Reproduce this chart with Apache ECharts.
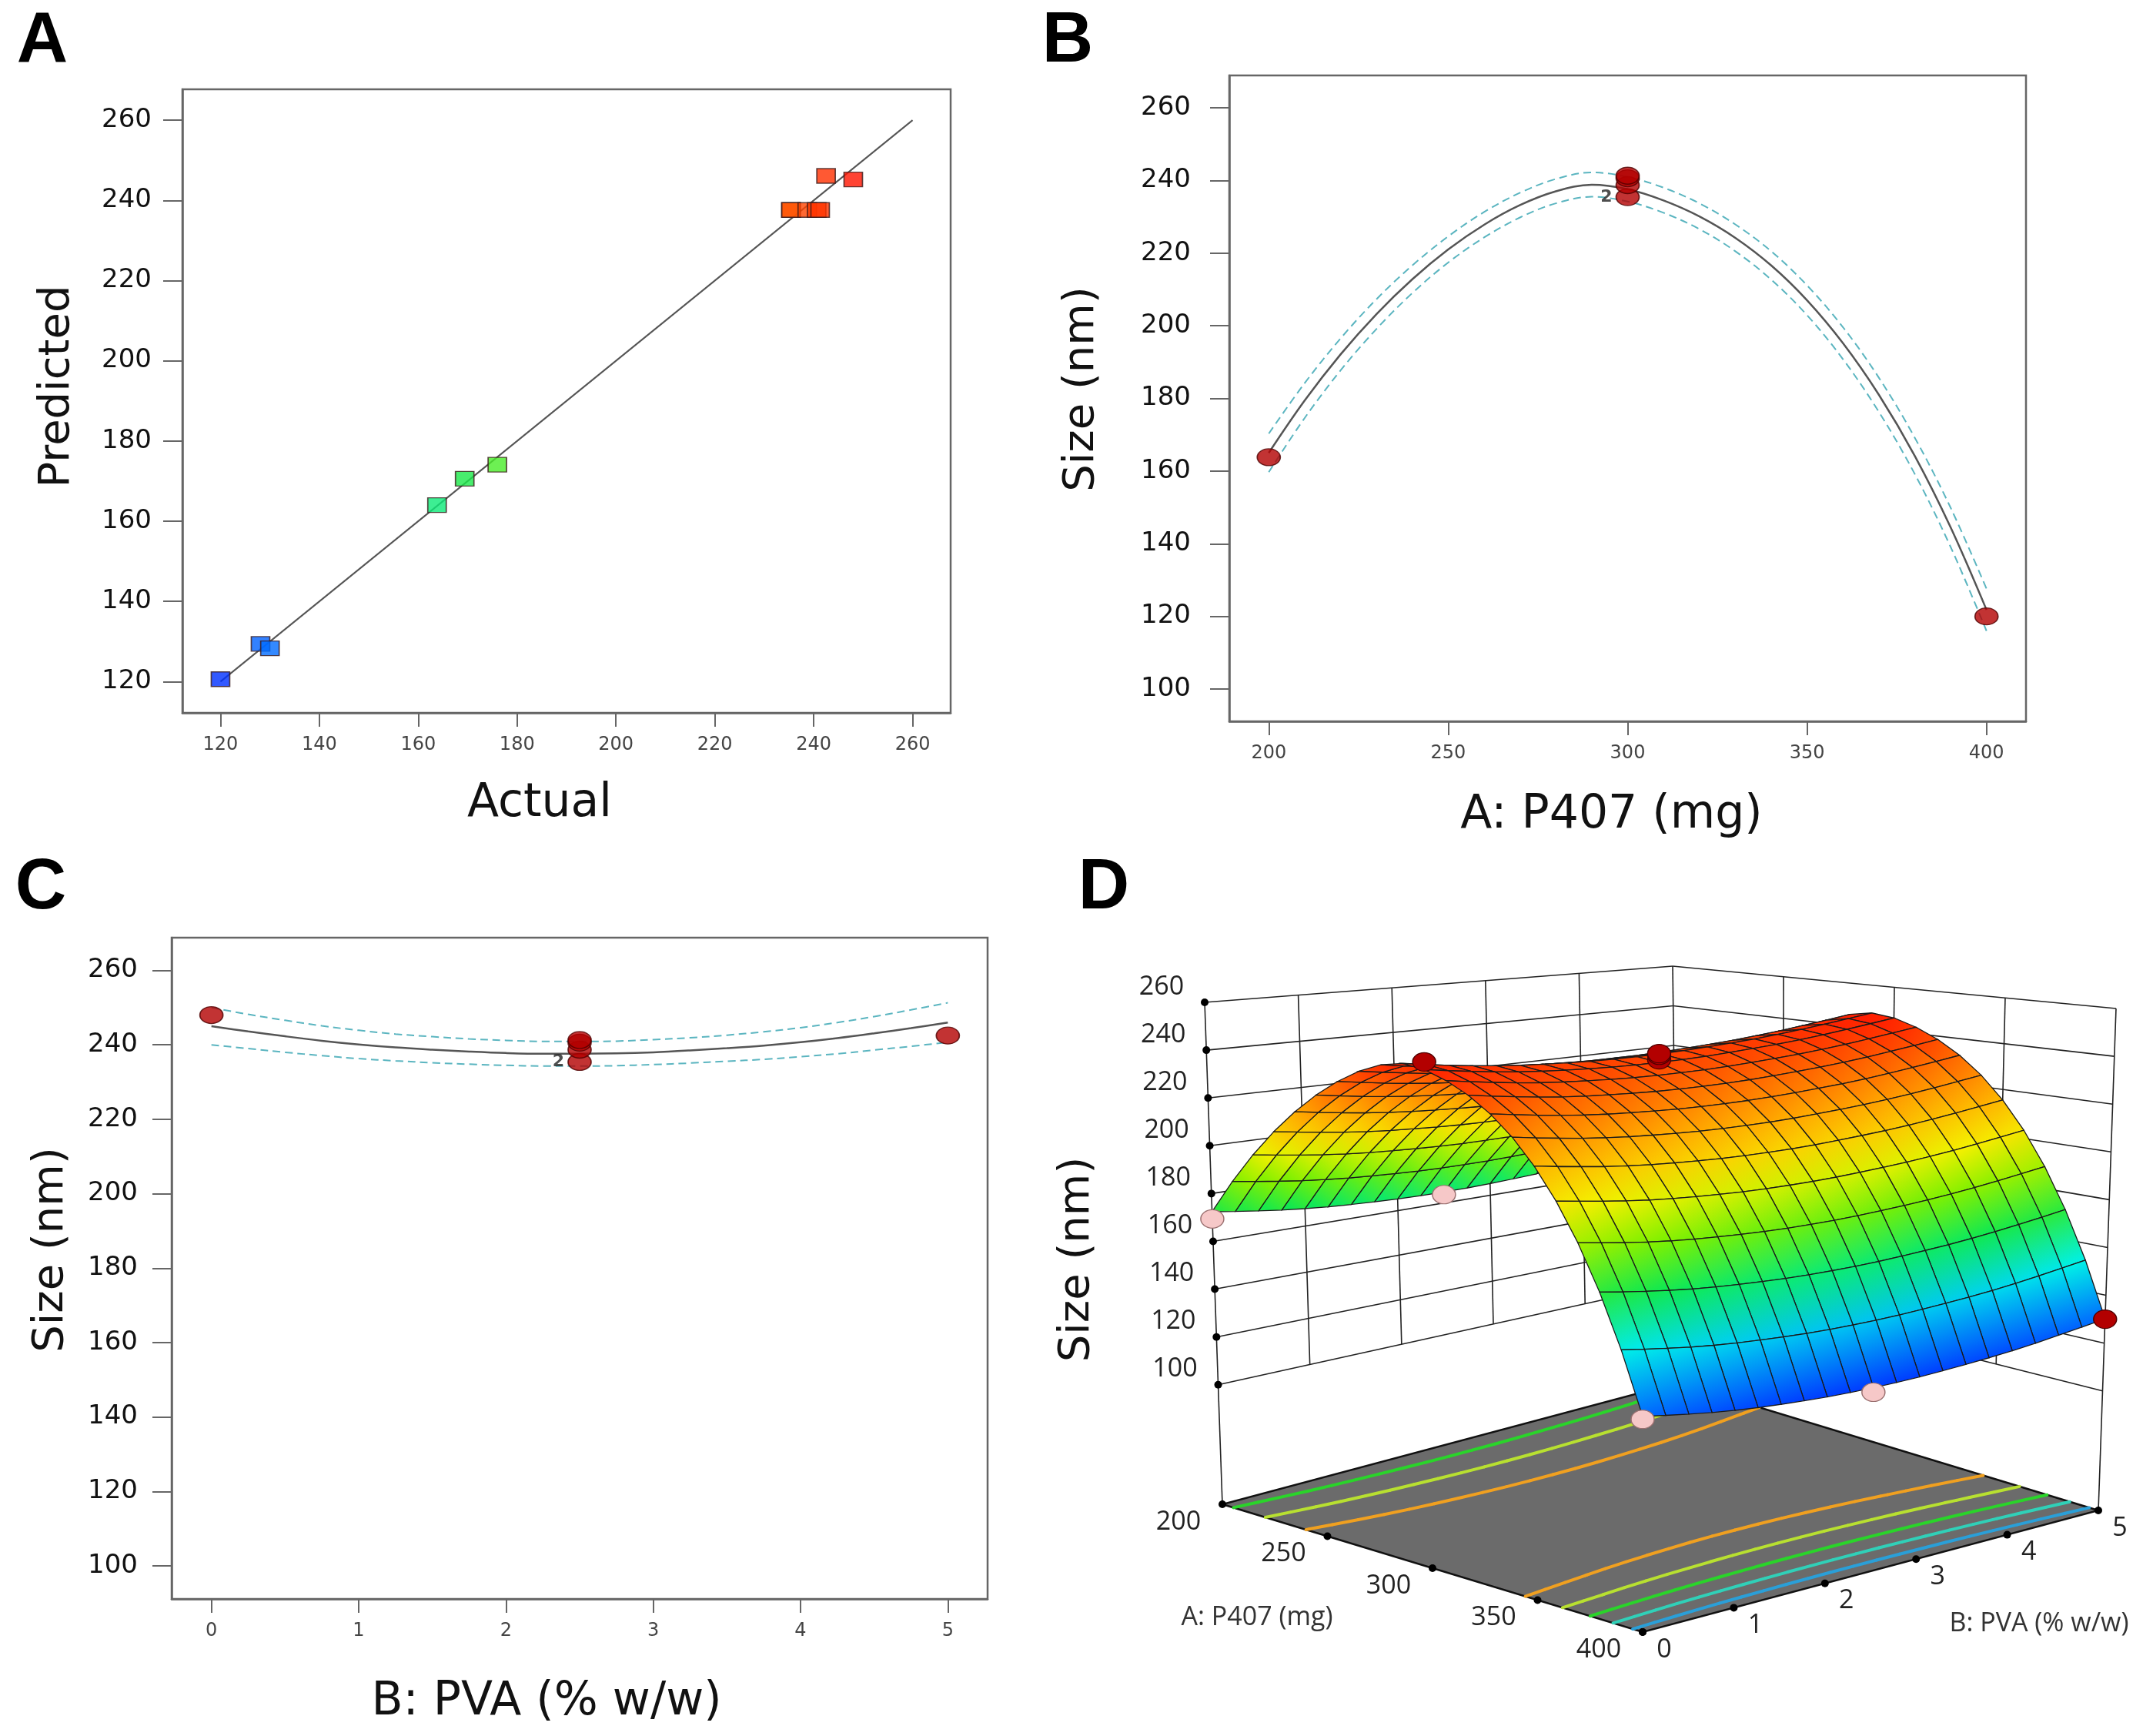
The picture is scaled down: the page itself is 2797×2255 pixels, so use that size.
<!DOCTYPE html>
<html>
<head>
<meta charset="utf-8">
<title>Size response</title>
<script src="https://cdn.jsdelivr.net/npm/echarts@6.0.0/dist/echarts.min.js"></script>
<style>
html, body { margin: 0; padding: 0; background: #fff; }
#chart { width: 2797px; height: 2255px; }
</style>
</head>
<body>
<div id="chart"></div>
<script>
// design runs (P407 mg, PVA % w/w, measured size, model prediction)
var runP407 = [400, 400, 400, 200, 200, 200, 300, 300, 300, 300, 300, 300, 300];
var runPVA = [2.5, 0, 5, 2.5, 0, 5, 2.5, 2.5, 2.5, 2.5, 2.5, 5, 0];
var runActual = [120.0, 128.1, 130.0, 163.8, 169.4, 176.0, 235.4, 235.4, 238.7, 240.6, 241.3, 242.5, 248.0];
var runPredicted = [120.6, 129.4, 128.3, 164.0, 170.6, 174.1, 237.6, 237.6, 237.6, 237.6, 237.6, 246.1, 245.2];

// one factor curve, P407 (PVA at 2.5)
var p407Grid = [200, 210, 220, 230, 240, 250, 260, 270, 280, 290, 300, 310, 320, 330, 340, 350, 360, 370, 380, 390, 400];
var sizeVsP407 = [165.0, 179.4, 192.1, 203.2, 212.8, 221.0, 227.8, 233.2, 237.0, 238.8, 237.6, 234.5, 230.1, 224.2, 216.6, 207.0, 195.2, 181.0, 164.2, 144.5, 121.8];
var sizeVsP407Hi = [170.3, 184.2, 196.5, 207.3, 216.6, 224.6, 231.3, 236.6, 240.4, 242.2, 241.0, 238.0, 233.7, 227.9, 220.5, 211.1, 199.6, 185.7, 169.2, 149.9, 127.6];
var sizeVsP407Lo = [159.7, 174.6, 187.7, 199.1, 209.0, 217.4, 224.3, 229.8, 233.7, 235.5, 234.2, 231.1, 226.6, 220.5, 212.7, 202.9, 190.8, 176.3, 159.2, 139.1, 116.0];

// one factor curve, PVA (P407 at 300)
var pvaGrid = [0, 0.25, 0.5, 0.75, 1, 1.25, 1.5, 1.75, 2, 2.25, 2.5, 2.75, 3, 3.25, 3.5, 3.75, 4, 4.25, 4.5, 4.75, 5];
var sizeVsPVA = [245.0, 243.6, 242.3, 241.1, 240.1, 239.3, 238.7, 238.2, 237.8, 237.6, 237.6, 237.7, 238.0, 238.5, 239.1, 239.8, 240.7, 241.8, 243.1, 244.5, 246.0];
var sizeVsPVAHi = [250.0, 248.2, 246.6, 245.1, 243.9, 242.9, 242.2, 241.6, 241.2, 240.9, 240.9, 241.0, 241.4, 241.9, 242.6, 243.5, 244.6, 246.0, 247.6, 249.4, 251.3];
var sizeVsPVALo = [240.0, 239.0, 238.0, 237.1, 236.3, 235.7, 235.2, 234.8, 234.5, 234.3, 234.3, 234.4, 234.7, 235.1, 235.6, 236.1, 236.8, 237.6, 238.6, 239.6, 240.7];

// tick labels
var ticksFit = [120, 140, 160, 180, 200, 220, 240, 260];
var ticksSize = [100, 120, 140, 160, 180, 200, 220, 240, 260];
var ticksP407 = [200, 250, 300, 350, 400];
var ticksPVA = [0, 1, 2, 3, 4, 5];
var contourLevels = [140, 160, 180, 200, 220];

var rainbow = ['#0030ff', '#0090ff', '#00f0e8', '#10e850', '#80f000', '#f4f000', '#ffb000', '#ff6400', '#ff1400'];
var colourMin = 120, colourMax = 248;
var contourColors = { 140: '#2a9fd8', 160: '#30d0b8', 180: '#2ad42a', 200: '#b8e030', 220: '#f0a020' };
var FONT = '"DejaVu Sans"';
var FONT3D = '"Open Sans"';

function zColour(z) {
  var t = Math.max(0, Math.min(1, (z - colourMin) / (colourMax - colourMin)));
  return echarts.color.lerp(t, rainbow);
}

// response surface from the two profiles
var centre = sizeVsP407[p407Grid.indexOf(300)];
var surf = p407Grid.map(function (a, i) {
  return pvaGrid.map(function (b, j) { return sizeVsP407[i] + sizeVsPVA[j] - centre; });
});

// 3d box: floor and top corners for (200,0) (400,0) (400,5) (200,5)
var box3d = {
  floor: [[1588, 1954], [2134, 2120], [2726, 1962], [2180, 1796]],
  top: [[1565, 1302], [2134, 1377], [2749, 1310], [2173, 1255]],
  zFloor: 50, zTop: 260
};
function proj(A, B, z) {
  var a = (A - 200) / 200, b = B / 5, h = (z - box3d.zFloor) / (box3d.zTop - box3d.zFloor);
  var w = [(1 - a) * (1 - b), a * (1 - b), a * b, (1 - a) * b];
  var fx = 0, fy = 0, tx = 0, ty = 0;
  for (var k = 0; k < 4; k++) {
    fx += w[k] * box3d.floor[k][0]; fy += w[k] * box3d.floor[k][1];
    tx += w[k] * box3d.top[k][0]; ty += w[k] * box3d.top[k][1];
  }
  return [fx + (tx - fx) * h, fy + (ty - fy) * h];
}
function viewDepth(A, B) {
  var a = (A - 200) / 200, b = B / 5;
  var eaX = box3d.floor[1][0] - box3d.floor[0][0], ebX = box3d.floor[3][0] - box3d.floor[0][0];
  return eaX * b - ebX * a;
}

// surface cells, far ones first
var cells = [];
for (var i = 0; i < p407Grid.length - 1; i++) {
  for (var j = 0; j < pvaGrid.length - 1; j++) {
    var zm = (surf[i][j] + surf[i + 1][j] + surf[i + 1][j + 1] + surf[i][j + 1]) / 4;
    var d = viewDepth((p407Grid[i] + p407Grid[i + 1]) / 2, (pvaGrid[j] + pvaGrid[j + 1]) / 2);
    cells.push([i, j, zm, d]);
  }
}
cells.sort(function (p, q) { return q[3] - p[3]; });

function cellQuad(i, j) {
  return [[i, j], [i + 1, j], [i + 1, j + 1], [i, j + 1]].map(function (q) {
    return proj(p407Grid[q[0]], pvaGrid[q[1]], surf[q[0]][q[1]]);
  });
}
function inPoly(pt, poly) {
  var inside = false;
  for (var k = 0, m = poly.length - 1; k < poly.length; m = k++) {
    var xi = poly[k][0], yi = poly[k][1], xj = poly[m][0], yj = poly[m][1];
    if (((yi > pt[1]) !== (yj > pt[1])) && (pt[0] < (xj - xi) * (pt[1] - yi) / (yj - yi) + xi)) inside = !inside;
  }
  return inside;
}

// design points that the surface does not hide
var pointsD = [];
runP407.forEach(function (A, r) {
  var B = runPVA[r], pt = proj(A, B, runActual[r]), dp = viewDepth(A, B);
  var hidden = cells.some(function (c) {
    return c[3] < dp - 10 && inPoly(pt, cellQuad(c[0], c[1]));
  });
  if (!hidden) pointsD.push([A, B, runActual[r], runPredicted[r]]);
});

// floor contours (marching squares)
var contourSegs = [];
contourLevels.forEach(function (lv) {
  for (var i = 0; i < p407Grid.length - 1; i++) {
    for (var j = 0; j < pvaGrid.length - 1; j++) {
      var c = [[i, j], [i + 1, j], [i + 1, j + 1], [i, j + 1]], cross = [];
      for (var k = 0; k < 4; k++) {
        var p = c[k], q = c[(k + 1) % 4];
        var v1 = surf[p[0]][p[1]] - lv, v2 = surf[q[0]][q[1]] - lv;
        if ((v1 < 0) !== (v2 < 0)) {
          var t = v1 / (v1 - v2);
          cross.push([p407Grid[p[0]] + t * (p407Grid[q[0]] - p407Grid[p[0]]),
                      pvaGrid[p[1]] + t * (pvaGrid[q[1]] - pvaGrid[p[1]])]);
        }
      }
      for (var m = 0; m + 1 < cross.length; m += 2) {
        contourSegs.push([cross[m][0], cross[m][1], cross[m + 1][0], cross[m + 1][1], lv]);
      }
    }
  }
});

// back walls of the box
var wallSegs = [];
ticksSize.forEach(function (z) {
  wallSegs.push([200, 0, z, 200, 5, z]);
  wallSegs.push([200, 5, z, 400, 5, z]);
});
[1, 2, 3, 4].forEach(function (b) { wallSegs.push([200, b, 100, 200, b, 260]); });
[250, 300, 350].forEach(function (a) { wallSegs.push([a, 5, 100, a, 5, 260]); });
wallSegs.push([200, 0, box3d.zFloor, 200, 0, 260]);
wallSegs.push([200, 5, box3d.zFloor, 200, 5, 260]);
wallSegs.push([400, 5, box3d.zFloor, 400, 5, 260]);

// points of the one factor plots, with repeat counts
function factorPoints(xs, keep) {
  var out = [], seen = {};
  runActual.forEach(function (y, r) {
    if (!keep(r)) return;
    var key = xs[r] + '|' + y;
    if (seen[key]) { seen[key].n++; return; }
    seen[key] = { value: [xs[r], y], n: 1 };
    out.push(seen[key]);
  });
  return out;
}
var pointsB = factorPoints(runP407, function (r) { return runPVA[r] === 2.5; });
var pointsC = factorPoints(runPVA, function (r) { return runP407[r] === 300; });

function pairs(xs, ys) { return xs.map(function (x, k) { return [x, ys[k]]; }); }

function axis(gi, min, max, ticks, o) {
  return {
    type: 'value', gridIndex: gi, min: min, max: max,
    name: o.name, nameLocation: 'middle', nameGap: o.gap,
    nameTextStyle: { fontFamily: FONT, fontSize: o.nameSize, color: '#111', padding: o.pad || 0 },
    axisLine: { show: true, onZero: false, lineStyle: { color: '#666', width: 2.5 } },
    axisTick: { show: true, customValues: ticks, length: o.tick, lineStyle: { color: '#666', width: 2 } },
    axisLabel: { customValues: ticks, fontFamily: FONT, fontSize: o.size, color: o.color, margin: o.margin },
    splitLine: { show: false }
  };
}
function xName(gi, min, max, ticks, name, gap, pad) {
  return axis(gi, min, max, ticks, { name: name, gap: gap, pad: pad, nameSize: 60, tick: 18, size: 24, color: '#444', margin: 30 });
}
function yName(gi, min, max, ticks, name, gap, pad, margin) {
  return axis(gi, min, max, ticks, { name: name, gap: gap, pad: pad, nameSize: 56, tick: 25, size: 34, color: '#111', margin: margin });
}

var dashed = { color: '#5bb5c0', width: 2, type: [10, 6] };
var redDot = { color: '#b30000', borderColor: '#4d0000', borderWidth: 1.5 };
var countLabel = {
  show: true, position: 'left', distance: 4, fontFamily: FONT, fontSize: 22, fontWeight: 'bold', color: '#222',
  formatter: function (p) { return p.data.n > 1 ? String(p.data.n) : ''; }
};
function curve(gi, data, style, z) {
  return { type: 'line', xAxisIndex: gi, yAxisIndex: gi, data: data, smooth: 0.35, symbol: 'none', lineStyle: style, z: z, silent: true };
}
function custom(name, data, z, render) {
  return { type: 'custom', name: name, xAxisIndex: 3, yAxisIndex: 3, data: data, z: z, silent: true, progressive: 0, renderItem: render };
}
function txt(x, y, s, font, fill, rot) {
  return { type: 'text', x: x, y: y, rotation: rot || 0,
    style: { text: s, font: font, fill: fill, textAlign: 'center', textVerticalAlign: 'middle', align: 'center', verticalAlign: 'middle' } };
}
function tickText(x, y, s) {
  return { type: 'text', x: x, y: y, style: { text: s, font: '34px ' + FONT3D, fill: '#222',
    textAlign: 'center', textVerticalAlign: 'middle', align: 'center', verticalAlign: 'middle' } };
}

var chart = echarts.init(document.getElementById('chart'));
chart.setOption({
  backgroundColor: '#fff',
  animation: false,
  grid: [
    { left: 237, top: 116, width: 998, height: 810, show: true, borderColor: '#666', borderWidth: 2.5 },
    { left: 1597, top: 98, width: 1035, height: 839, show: true, borderColor: '#666', borderWidth: 2.5 },
    { left: 223, top: 1218, width: 1060, height: 859, show: true, borderColor: '#666', borderWidth: 2.5 },
    { left: 0, top: 0, width: 2797, height: 2255, show: false }
  ],
  xAxis: [
    xName(0, 112.3, 267.7, ticksFit, 'Actual', 88, [0, 70, 0, 0]),
    xName(1, 189, 411, ticksP407, 'A: P407 (mg)', 92, [0, 42, 0, 0]),
    xName(2, -0.27, 5.27, ticksPVA, 'B: PVA (% w/w)', 104, [0, 86, 0, 0]),
    { type: 'value', gridIndex: 3, min: 0, max: 2797, show: false }
  ],
  yAxis: [
    yName(0, 112.2, 267.7, ticksFit, 'Predicted', 135, [0, 0, 0, 38], 40),
    yName(1, 91.1, 268.9, ticksSize, 'Size (nm)', 164, [0, 0, 0, 24], 50),
    yName(2, 91.1, 268.8, ticksSize, 'Size (nm)', 129, [0, 0, 0, 48], 44),
    { type: 'value', gridIndex: 3, min: 0, max: 2255, inverse: true, show: false }
  ],
  visualMap: [
    { type: 'continuous', show: false, seriesIndex: 1, dimension: 0, min: colourMin, max: colourMax, inRange: { color: rainbow } }
  ],
  graphic: [
    txt(55, 55, 'A', 'bold 92px "Liberation Sans"', '#000'),
    txt(1387, 55, 'B', 'bold 92px "Liberation Sans"', '#000'),
    txt(53, 1155, 'C', 'bold 92px "Liberation Sans"', '#000'),
    txt(1434, 1155, 'D', 'bold 92px "Liberation Sans"', '#000'),
    txt(1399, 1636, 'Size (nm)', '56px ' + FONT, '#111', Math.PI / 2),
    txt(1633, 2101, 'A: P407 (mg)', '34px ' + FONT3D, '#333'),
    txt(2649, 2109, 'B: PVA (% w/w)', '34px ' + FONT3D, '#333')
  ],
  series: [
    // A: predicted vs actual
    curve(0, [[120, 120], [260, 260]], { color: '#555', width: 2 }, 2),
    { type: 'scatter', xAxisIndex: 0, yAxisIndex: 0, data: pairs(runActual, runPredicted), symbol: 'rect', symbolSize: [24, 19],
      itemStyle: { borderColor: '#3a1a1a', borderWidth: 1.5 }, z: 3 },
    // B: P407 effect
    curve(1, pairs(p407Grid, sizeVsP407Hi), dashed, 2),
    curve(1, pairs(p407Grid, sizeVsP407Lo), dashed, 2),
    curve(1, pairs(p407Grid, sizeVsP407), { color: '#555', width: 2.5 }, 2),
    { type: 'scatter', xAxisIndex: 1, yAxisIndex: 1, data: pointsB, symbol: 'circle', symbolSize: [30, 22], itemStyle: redDot, label: countLabel, z: 3 },
    // C: PVA effect
    curve(2, pairs(pvaGrid, sizeVsPVAHi), dashed, 2),
    curve(2, pairs(pvaGrid, sizeVsPVALo), dashed, 2),
    curve(2, pairs(pvaGrid, sizeVsPVA), { color: '#555', width: 2.5 }, 2),
    { type: 'scatter', xAxisIndex: 2, yAxisIndex: 2, data: pointsC, symbol: 'circle', symbolSize: [30, 22], itemStyle: redDot, label: countLabel, z: 3 },
    // D: 3d response surface
    custom('walls', wallSegs, 1, function (params, api) {
      var p1 = api.coord(proj(api.value(0), api.value(1), api.value(2)));
      var p2 = api.coord(proj(api.value(3), api.value(4), api.value(5)));
      return { type: 'line', shape: { x1: p1[0], y1: p1[1], x2: p2[0], y2: p2[1] }, style: { stroke: '#222', lineWidth: 1.6 } };
    }),
    custom('floor', [[0]], 2, function (params, api) {
      var pts = [[200, 0], [400, 0], [400, 5], [200, 5]].map(function (c) { return api.coord(proj(c[0], c[1], box3d.zFloor)); });
      return { type: 'polygon', shape: { points: pts }, style: { fill: '#6b6b6b', stroke: '#111', lineWidth: 2.5 } };
    }),
    custom('contours', contourSegs, 3, function (params, api) {
      var p1 = api.coord(proj(api.value(0), api.value(1), box3d.zFloor));
      var p2 = api.coord(proj(api.value(2), api.value(3), box3d.zFloor));
      return { type: 'line', shape: { x1: p1[0], y1: p1[1], x2: p2[0], y2: p2[1] },
        style: { stroke: contourColors[api.value(4)], lineWidth: 4, lineCap: 'round' } };
    }),
    custom('surface', cells, 4, function (params, api) {
      var i = api.value(0), j = api.value(1);
      var pts = cellQuad(i, j).map(function (p) { return api.coord(p); });
      var m0 = [(pts[0][0] + pts[3][0]) / 2, (pts[0][1] + pts[3][1]) / 2];
      var m1 = [(pts[1][0] + pts[2][0]) / 2, (pts[1][1] + pts[2][1]) / 2];
      var z0 = (surf[i][j] + surf[i][j + 1]) / 2, z1 = (surf[i + 1][j] + surf[i + 1][j + 1]) / 2;
      var fill = new echarts.graphic.LinearGradient(m0[0], m0[1], m1[0], m1[1],
        [{ offset: 0, color: zColour(z0) }, { offset: 1, color: zColour(z1) }], true);
      return { type: 'polygon', shape: { points: pts }, style: { fill: fill, stroke: '#1a1a1a', lineWidth: 1.3 } };
    }),
    custom('points', pointsD, 5, function (params, api) {
      var p = api.coord(proj(api.value(0), api.value(1), api.value(2)));
      var above = api.value(2) > api.value(3);
      return { type: 'circle', x: p[0], y: p[1], scaleY: 0.8, shape: { cx: 0, cy: 0, r: 15 },
        style: above ? { fill: '#b30000', stroke: '#4d0000', lineWidth: 1.5 } : { fill: '#f6c8c8', stroke: '#9a7070', lineWidth: 1.5 } };
    }),
    custom('zTicks', ticksSize.map(function (z) { return [z]; }), 6, function (params, api) {
      var z = api.value(0), p = api.coord(proj(200, 0, z));
      return { type: 'group', children: [
        { type: 'circle', shape: { cx: p[0], cy: p[1], r: 5 }, style: { fill: '#000' } },
        tickText(p[0] - 56, p[1] - 20, String(z))
      ] };
    }),
    custom('p407Ticks', ticksP407.map(function (a) { return [a]; }), 6, function (params, api) {
      var a = api.value(0), p = api.coord(proj(a, 0, box3d.zFloor));
      return { type: 'group', children: [
        { type: 'circle', shape: { cx: p[0], cy: p[1], r: 5 }, style: { fill: '#000' } },
        tickText(p[0] - 57, p[1] + 23, String(a))
      ] };
    }),
    custom('pvaTicks', ticksPVA.map(function (b) { return [b]; }), 6, function (params, api) {
      var b = api.value(0), p = api.coord(proj(400, b, box3d.zFloor));
      return { type: 'group', children: [
        { type: 'circle', shape: { cx: p[0], cy: p[1], r: 5 }, style: { fill: '#000' } },
        tickText(p[0] + 28, p[1] + 23, String(b))
      ] };
    })
  ]
});
</script>
</body>
</html>
